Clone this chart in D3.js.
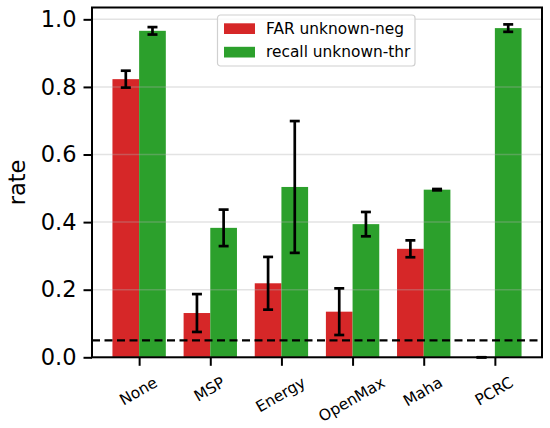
<html>
<head>
    <script src="https://d3js.org/d3.v7.min.js"></script>
    <style>
        body { margin: 0; background: white; }
        text { font-family: 'DejaVu Sans', sans-serif; fill: black; }
        .grid line { stroke: #b0b0b0; stroke-opacity: 0.35; stroke-width: 1.5px; }
    </style>
</head>
<body>
    <svg id="chart" width="550" height="428"></svg>
<script>
    // chart data
    const methods = ['None', 'MSP', 'Energy', 'OpenMax', 'Maha', 'PCRC'];
    const farMean = [0.823, 0.131, 0.219, 0.135, 0.321, 0.0];
    const farErr = [0.025, 0.056, 0.078, 0.069, 0.025, 0.0];
    const recallMean = [0.966, 0.383, 0.504, 0.394, 0.496, 0.974];
    const recallErr = [0.011, 0.054, 0.195, 0.036, 0.002, 0.011];
    const yTicks = [0.0, 0.2, 0.4, 0.6, 0.8, 1.0];
    const seriesNames = ['FAR unknown-neg', 'recall unknown-thr'];
    const threshold = 0.05;

    const red = '#d62728';
    const green = '#2ca02c';
    const barWidth = 0.375;

    const svg = d3.select('#chart');
    const plotLeft = 92, plotRight = 542, plotTop = 7.5, plotBottom = 357.3;

    const x = d3.scaleLinear().domain([-0.6625, 5.6625]).range([plotLeft, plotRight]);
    const y = d3.scaleLinear().domain([0, 1.035]).range([plotBottom, plotTop]);

    // bars
    const series = [
        { name: seriesNames[0], mean: farMean, err: farErr, color: red, offset: -barWidth / 2 },
        { name: seriesNames[1], mean: recallMean, err: recallErr, color: green, offset: barWidth / 2 }
    ];

    series.forEach(s => {
        svg.append('g').selectAll('rect')
            .data(methods)
            .join('rect')
            .attr('x', (d, i) => x(i + s.offset - barWidth / 2))
            .attr('width', x(barWidth) - x(0))
            .attr('y', (d, i) => y(s.mean[i]))
            .attr('height', (d, i) => y(0) - y(s.mean[i]))
            .attr('fill', s.color);
    });

    // grid on top of bars, faint
    svg.append('g').attr('class', 'grid')
        .selectAll('line')
        .data(yTicks)
        .join('line')
        .attr('x1', plotLeft).attr('x2', plotRight)
        .attr('y1', d => y(d)).attr('y2', d => y(d));

    // error bars
    const cap = 5;
    series.forEach(s => {
        const g = svg.append('g').attr('stroke', 'black').attr('stroke-width', 2.7);
        methods.forEach((m, i) => {
            const cx = x(i + s.offset);
            const lo = y(s.mean[i] - s.err[i]);
            const hi = y(s.mean[i] + s.err[i]);
            g.append('line').attr('x1', cx).attr('x2', cx).attr('y1', lo).attr('y2', hi);
            g.append('line').attr('x1', cx - cap).attr('x2', cx + cap).attr('y1', lo).attr('y2', lo);
            g.append('line').attr('x1', cx - cap).attr('x2', cx + cap).attr('y1', hi).attr('y2', hi);
        });
    });

    // dashed threshold line
    svg.append('line')
        .attr('x1', plotLeft).attr('x2', plotRight)
        .attr('y1', y(threshold)).attr('y2', y(threshold))
        .attr('stroke', 'black')
        .attr('stroke-width', 2.2)
        .attr('stroke-dasharray', '8,4.5');

    // axes
    const yAxis = d3.axisLeft(y).tickValues(yTicks).tickFormat(d3.format('.1f')).tickSize(8.5).tickPadding(7);
    const yg = svg.append('g').attr('transform', `translate(${plotLeft},0)`).call(yAxis);
    yg.select('.domain').remove();
    yg.selectAll('.tick line').attr('stroke-width', 2);
    yg.selectAll('.tick text').style('font-size', '22.5px').attr('font-family', 'DejaVu Sans');

    const xAxis = d3.axisBottom(x).tickValues(d3.range(methods.length)).tickFormat('').tickSize(8.5);
    const xg = svg.append('g').attr('transform', `translate(0,${plotBottom})`).call(xAxis);
    xg.select('.domain').remove();
    xg.selectAll('.tick line').attr('stroke-width', 2);

    // rotated x tick labels, rotated box centred under the tick
    const fs = 15.5;
    const angle = 30 * Math.PI / 180;
    const labelTop = 373.5;
    methods.forEach((m, i) => {
        const t = svg.append('text')
            .attr('text-anchor', 'middle')
            .attr('dominant-baseline', 'central')
            .style('font-size', fs + 'px')
            .text(m);
        const len = t.node().getComputedTextLength();
        const h = fs * 1.16;
        const boxH = len * Math.sin(angle) + h * Math.cos(angle);
        const cx = x(i) - 0.7, cy = labelTop + boxH / 2;
        t.attr('transform', `translate(${cx},${cy}) rotate(-30)`);
    });

    // frame
    svg.append('rect')
        .attr('x', plotLeft).attr('y', plotTop)
        .attr('width', plotRight - plotLeft).attr('height', plotBottom - plotTop)
        .attr('fill', 'none').attr('stroke', 'black').attr('stroke-width', 2);

    // y label
    svg.append('text')
        .attr('transform', `translate(16.5,${(plotTop + plotBottom) / 2}) rotate(-90)`)
        .attr('text-anchor', 'middle')
        .attr('dominant-baseline', 'central')
        .style('font-size', '22.5px')
        .text('rate');

    // legend
    const legend = svg.append('g').attr('transform', 'translate(217.5,15)');
    legend.append('rect')
        .attr('width', 197.5).attr('height', 51)
        .attr('rx', 3)
        .attr('fill', 'white').attr('fill-opacity', 0.8)
        .attr('stroke', '#d0d0d0').attr('stroke-width', 1.2);
    series.forEach((s, i) => {
        const row = legend.append('g').attr('transform', `translate(0,${8.3 + i * 23.5})`);
        row.append('rect')
            .attr('x', 6.5).attr('width', 31).attr('height', 10.7)
            .attr('fill', s.color);
        row.append('text')
            .attr('x', 48.5).attr('y', 5.6)
            .attr('dominant-baseline', 'central')
            .style('font-size', '15.4px')
            .text(s.name);
    });
</script>
</body>
</html>
